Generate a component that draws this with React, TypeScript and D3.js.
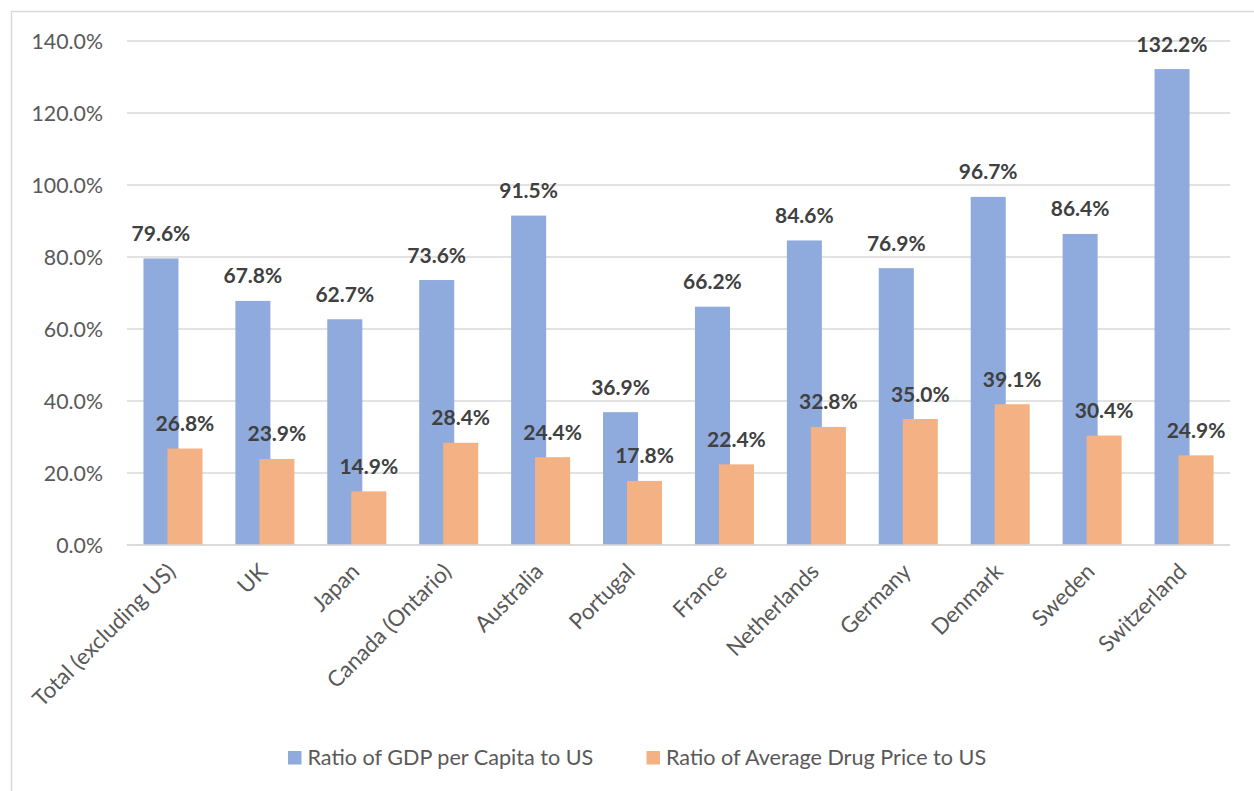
import React from "react";
import * as d3 from "d3";

const categories = [
  "Total (excluding US)", "UK", "Japan", "Canada (Ontario)", "Australia", "Portugal",
  "France", "Netherlands", "Germany", "Denmark", "Sweden", "Switzerland",
];
const gdpRatio = [79.6, 67.8, 62.7, 73.6, 91.5, 36.9, 66.2, 84.6, 76.9, 96.7, 86.4, 132.2];
const drugPriceRatio = [26.8, 23.9, 14.9, 28.4, 24.4, 17.8, 22.4, 32.8, 35.0, 39.1, 30.4, 24.9];
const yTicks = [0, 20, 40, 60, 80, 100, 120, 140];
const seriesNames = ["Ratio of GDP per Capita to US", "Ratio of Average Drug Price to US"];
const seriesColors = ["#8FAADC", "#F4B183"];

const W = 1254;
const H = 791;
const FONT = "Lato, 'Open Sans', sans-serif";

export default function App() {
  const x = d3.scaleBand<string>().domain(categories).range([127, 1230]);
  const y = d3.scaleLinear().domain([0, 140]).range([545, 41]);
  const bw = x.bandwidth();
  const barW = bw * 0.381;
  const blueOff = -bw * 0.321;
  const orangeOff = -bw * 0.06;
  const fmt = (v: number) => v.toFixed(1) + "%";

  return (
    <svg width={W} height={H} style={{ position: "absolute", left: 0, top: 0, background: "#fff" }}>
      <rect x={11.5} y={11.5} width={1300} height={900} fill="#fff" stroke="#D9D9D9" strokeWidth={1.5} />
      {yTicks.map((t) => (
        <g key={t}>
          <line x1={127} x2={1230} y1={y(t)} y2={y(t)} stroke="#D9D9D9" strokeWidth={1.3} />
          <text x={103} y={y(t)} dy="0.36em" textAnchor="end" fontFamily={FONT} fontSize={21.3} fill="#595959">
            {t.toFixed(1) + "%"}
          </text>
        </g>
      ))}
      {categories.map((c, i) => {
        const cx = (x(c) as number) + bw / 2;
        return (
          <g key={c}>
            <rect x={cx + blueOff} y={y(gdpRatio[i])} width={barW} height={y(0) - y(gdpRatio[i])} fill={seriesColors[0]} />
            <rect x={cx + orangeOff} y={y(drugPriceRatio[i])} width={barW} height={y(0) - y(drugPriceRatio[i])} fill={seriesColors[1]} />
          </g>
        );
      })}
      <line x1={127} x2={1230} y1={y(0)} y2={y(0)} stroke="#D9D9D9" strokeWidth={1.5} />
      {categories.map((c, i) => {
        const cx = (x(c) as number) + bw / 2;
        return (
          <g key={c + "-lbl"}>
            <text x={cx + blueOff + barW / 2} y={y(gdpRatio[i]) - 17.5} textAnchor="middle" fontFamily={FONT} fontWeight="bold" fontSize={21} fill="#404040">
              {fmt(gdpRatio[i])}
            </text>
            <text x={cx + orangeOff + barW / 2} y={y(drugPriceRatio[i]) - 17.5} textAnchor="middle" fontFamily={FONT} fontWeight="bold" fontSize={21} fill="#404040">
              {fmt(drugPriceRatio[i])}
            </text>
            <text
              transform={`translate(${cx + 4},${y(0) + 28}) rotate(-45)`}
              textAnchor="end"
              fontFamily={FONT}
              fontSize={22.3}
              fill="#595959"
            >
              {c}
            </text>
          </g>
        );
      })}
      <g>
        <rect x={288} y={751} width={13.5} height={13.5} fill={seriesColors[0]} />
        <text x={307.5} y={764.5} fontFamily={FONT} fontSize={21.6} fill="#595959">{seriesNames[0]}</text>
        <rect x={646.5} y={751} width={13.5} height={13.5} fill={seriesColors[1]} />
        <text x={666} y={764.5} fontFamily={FONT} fontSize={21.6} fill="#595959">{seriesNames[1]}</text>
      </g>
    </svg>
  );
}
